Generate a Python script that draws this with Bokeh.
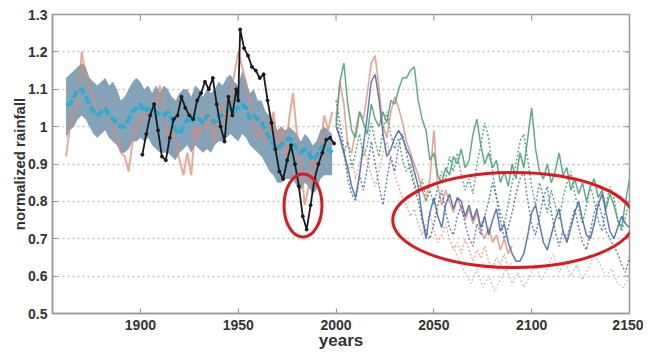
from bokeh.plotting import figure
from bokeh.models import LinearAxis, FixedTicker, CustomJSTickFormatter, Range1d
from bokeh.embed import file_html
from bokeh.resources import INLINE

# ---------------- data ----------------
hist_years = [1862, 1864, 1866, 1868, 1870, 1872, 1874, 1876, 1878, 1880, 1882, 1884, 1886, 1888,
              1890, 1892, 1894, 1896, 1898, 1900, 1902, 1904, 1906, 1908, 1910, 1912, 1914, 1916,
              1918, 1920, 1922, 1924, 1926, 1928, 1930, 1932, 1934, 1936, 1938, 1940, 1942, 1944,
              1946, 1948, 1950, 1952, 1954, 1956, 1958, 1960, 1962, 1964, 1966, 1968, 1970, 1972,
              1974, 1976, 1978, 1980, 1982, 1984, 1986, 1988, 1990, 1992, 1994, 1996, 1998]
band_upper = [1.13, 1.14, 1.15, 1.16, 1.17, 1.16, 1.13, 1.12, 1.11, 1.12, 1.13, 1.11, 1.12, 1.10,
              1.07, 1.08, 1.10, 1.12, 1.13, 1.12, 1.10, 1.11, 1.09, 1.11, 1.09, 1.11, 1.10, 1.08,
              1.07, 1.09, 1.10, 1.10, 1.08, 1.11, 1.10, 1.08, 1.10, 1.09, 1.10, 1.12, 1.11, 1.13,
              1.14, 1.12, 1.11, 1.15, 1.12, 1.09, 1.10, 1.07, 1.07, 1.04, 1.03, 1.02, 0.99, 1.00,
              0.99, 1.00, 0.99, 0.98, 0.96, 0.98, 0.97, 0.95, 0.96, 0.99, 1.00, 0.99, 0.98]
band_lower = [0.97, 0.99, 1.00, 1.02, 1.03, 1.02, 1.00, 0.98, 0.97, 0.98, 0.99, 0.97, 0.96, 0.95,
              0.93, 0.93, 0.94, 0.96, 0.96, 0.97, 0.96, 0.97, 0.95, 0.94, 0.93, 0.93, 0.93, 0.92,
              0.91, 0.93, 0.94, 0.95, 0.93, 0.95, 0.94, 0.93, 0.94, 0.93, 0.95, 0.96, 0.96, 0.97,
              0.98, 0.97, 0.96, 0.98, 0.97, 0.95, 0.94, 0.93, 0.92, 0.90, 0.88, 0.87, 0.85, 0.85,
              0.86, 0.86, 0.86, 0.84, 0.83, 0.85, 0.84, 0.82, 0.83, 0.86, 0.87, 0.87, 0.87]
model_mean = [1.06, 1.06, 1.08, 1.10, 1.10, 1.08, 1.06, 1.04, 1.03, 1.04, 1.05, 1.03, 1.02, 1.01,
              1.00, 1.00, 1.02, 1.04, 1.05, 1.06, 1.04, 1.05, 1.04, 1.04, 1.03, 1.03, 1.04, 1.02,
              0.99, 0.98, 1.00, 1.02, 1.01, 1.03, 1.02, 1.01, 1.03, 1.02, 1.01, 1.03, 1.03, 1.04,
              1.05, 1.04, 1.05, 1.06, 1.05, 1.02, 1.03, 1.02, 1.01, 0.99, 0.97, 0.95, 0.94, 0.95,
              0.96, 0.97, 0.96, 0.94, 0.93, 0.94, 0.93, 0.91, 0.92, 0.94, 0.95, 0.94, 0.93]
hist_salmon = [0.92, 1.00, 1.04, 1.06, 1.20, 1.14, 1.10, 1.08, 1.03, 1.04, 1.06, 1.03, 0.99, 0.98,
               0.93, 0.92, 0.88, 0.96, 1.00, 1.03, 1.02, 1.05, 1.04, 1.06, 1.11, 1.05, 0.97, 1.00,
               0.96, 0.91, 0.87, 0.93, 0.87, 1.00, 0.97, 1.04, 0.99, 1.03, 0.96, 1.02, 1.06, 1.01,
               1.08, 1.14, 1.20, 1.16, 1.12, 1.06, 1.00, 0.97, 1.02, 0.96, 0.99, 1.04, 0.95, 1.00,
               0.92, 1.02, 1.09, 0.98, 0.90, 0.79, 0.84, 0.92, 0.88, 0.95, 1.03, 0.99, 1.04]

obs_years = [1901, 1903, 1905, 1907, 1909, 1911, 1913, 1915, 1917, 1919, 1921, 1923, 1925, 1927,
             1929, 1931, 1933, 1935, 1937, 1939, 1941, 1943, 1945, 1947, 1949, 1950, 1951, 1953,
             1955, 1957, 1959, 1961, 1963, 1965, 1967, 1969, 1971, 1973, 1975, 1977, 1979, 1981,
             1983, 1985, 1987, 1989, 1991, 1993, 1995, 1997, 1999]
obs_rain = [0.925, 0.98, 1.03, 1.06, 0.99, 0.92, 0.91, 0.97, 1.02, 1.03, 1.08, 1.05, 1.03, 1.02,
            1.07, 1.09, 1.12, 1.10, 1.13, 1.06, 1.00, 0.96, 1.08, 1.03, 1.10, 1.07, 1.26, 1.21,
            1.19, 1.16, 1.15, 1.13, 1.14, 1.07, 1.01, 0.94, 0.88, 0.86, 0.91, 0.95, 0.90, 0.84,
            0.76, 0.725, 0.79, 0.86, 0.90, 0.93, 0.965, 0.97, 0.955]

fut_years = [2000, 2002, 2004, 2006, 2008, 2010, 2012, 2014, 2016, 2018,
             2020, 2022, 2024, 2026, 2028, 2030, 2032, 2034, 2036, 2038,
             2040, 2042, 2044, 2046, 2048, 2050, 2052, 2054, 2056, 2058,
             2060, 2062, 2064, 2066, 2068, 2070, 2072, 2074, 2076, 2078,
             2080, 2082, 2084, 2086, 2088, 2090, 2092, 2094, 2096, 2098,
             2100, 2102, 2104, 2106, 2108, 2110, 2112, 2114, 2116, 2118,
             2120, 2122, 2124, 2126, 2128, 2130, 2132, 2134, 2136, 2138,
             2140, 2142, 2144, 2146, 2148, 2150]
green_solid = [1.00, 1.12, 1.17, 1.06, 0.99, 0.97, 1.04, 1.01, 0.98, 1.06,
               1.02, 1.00, 1.04, 1.01, 1.07, 1.06, 1.10, 1.13, 1.13, 1.15,
               1.16, 1.07, 1.02, 0.99, 0.91, 0.93, 0.87, 0.85, 0.89, 0.87,
               0.92, 0.90, 0.94, 0.89, 0.91, 0.98, 1.02, 0.95, 0.90, 0.93,
               0.89, 0.91, 0.85, 0.88, 0.84, 0.90, 0.86, 0.93, 0.89, 0.97,
               1.05, 0.94, 0.88, 0.86, 0.90, 0.85, 0.88, 0.93, 0.87, 0.89,
               0.83, 0.86, 0.82, 0.85, 0.80, 0.84, 0.86, 0.81, 0.83, 0.78,
               0.82, 0.79, 0.75, 0.73, 0.80, 0.86]
green_dotted = [1.02, 0.97, 0.93, 0.96, 0.89, 0.93, 0.98, 0.92, 0.95, 1.01,
                0.96, 0.92, 0.99, 1.04, 0.98, 0.94, 0.97, 0.91, 0.88, 0.90,
                0.85, 0.82, 0.86, 0.80, 0.83, 0.79, 0.84, 0.88, 0.86, 0.92,
                0.88, 0.93, 0.87, 0.83, 0.86, 0.82, 0.90, 0.95, 1.01, 0.97,
                0.88, 0.81, 0.77, 0.74, 0.79, 0.85, 0.90, 0.96, 0.98, 0.91,
                0.84, 0.79, 0.85, 0.81, 0.77, 0.83, 0.79, 0.75, 0.81, 0.85,
                0.88, 0.82, 0.78, 0.74, 0.79, 0.84, 0.80, 0.75, 0.72, 0.79,
                0.84, 0.81, 0.75, 0.72, 0.76, 0.80]
blue_solid = [1.00, 0.97, 0.93, 0.89, 0.84, 0.81, 0.87, 0.95, 1.03, 1.12,
              1.14, 1.07, 0.98, 0.92, 0.94, 0.97, 0.99, 0.97, 0.94, 0.92,
              0.88, 0.84, 0.76, 0.70, 0.77, 0.81, 0.76, 0.73, 0.79, 0.82,
              0.78, 0.81, 0.80, 0.76, 0.79, 0.75, 0.78, 0.73, 0.76, 0.71,
              0.75, 0.78, 0.72, 0.74, 0.69, 0.66, 0.64, 0.64, 0.66, 0.71,
              0.77, 0.79, 0.74, 0.69, 0.67, 0.71, 0.75, 0.78, 0.72, 0.69,
              0.73, 0.77, 0.80, 0.75, 0.71, 0.70, 0.74, 0.79, 0.82, 0.77,
              0.72, 0.70, 0.73, 0.76, 0.74, 0.73]
blue_dotted = [1.07, 1.01, 0.94, 0.86, 0.82, 0.80, 0.87, 0.83, 0.89, 0.96,
               0.90, 0.84, 0.79, 0.86, 0.92, 0.88, 0.95, 0.98, 0.93, 0.88,
               0.84, 0.80, 0.75, 0.72, 0.70, 0.74, 0.79, 0.83, 0.77, 0.73,
               0.71, 0.76, 0.79, 0.74, 0.70, 0.68, 0.74, 0.71, 0.76, 0.80,
               0.85, 0.81, 0.75, 0.70, 0.73, 0.77, 0.82, 0.86, 0.88, 0.80,
               0.74, 0.71, 0.76, 0.81, 0.84, 0.77, 0.72, 0.68, 0.72, 0.70,
               0.74, 0.78, 0.73, 0.69, 0.67, 0.72, 0.77, 0.80, 0.76, 0.72,
               0.70, 0.68, 0.66, 0.63, 0.61, 0.65]
salmon_years = [2000, 2002, 2004, 2006, 2008, 2010, 2012, 2014, 2016, 2018,
                2020, 2022, 2024, 2026, 2028, 2030, 2032, 2034, 2036, 2038,
                2040, 2042, 2044, 2046, 2048, 2050, 2052, 2054, 2056, 2058,
                2060, 2062, 2064, 2066, 2068, 2070, 2072, 2074, 2076, 2078,
                2080, 2082, 2084, 2086, 2088, 2090]
salmon_solid = [1.02, 1.12, 1.06, 0.95, 0.93, 0.99, 1.04, 1.02, 1.09, 1.17,
                1.19, 1.10, 1.00, 0.97, 1.04, 1.08, 1.05, 1.01, 0.96, 0.93,
                0.90, 0.87, 0.83, 0.80, 0.86, 0.99, 0.84, 0.79, 0.83, 0.80,
                0.77, 0.81, 0.78, 0.75, 0.78, 0.74, 0.77, 0.72, 0.70, 0.73,
                0.69, 0.71, 0.67, 0.70, 0.66, 0.68]
salmon_dotted = [1.04, 0.98, 0.92, 0.88, 0.91, 0.86, 0.90, 0.95, 0.91, 0.87,
                 0.84, 0.88, 0.93, 0.96, 0.91, 0.87, 0.84, 0.81, 0.79, 0.76,
                 0.78, 0.74, 0.71, 0.74, 0.77, 0.72, 0.69, 0.71, 0.74, 0.70,
                 0.67, 0.69, 0.66, 0.70, 0.67, 0.64, 0.67, 0.65, 0.68, 0.64,
                 0.62, 0.65, 0.63, 0.66, 0.62, 0.64]
gray_years = [2060, 2063, 2066, 2069, 2072, 2075, 2078, 2081, 2084, 2087, 2090, 2093, 2096, 2099,
              2102, 2105, 2108, 2111, 2114, 2117, 2120, 2123, 2126, 2129, 2132, 2135, 2138, 2141,
              2144, 2147, 2150]
gray_dotted = [0.68, 0.64, 0.61, 0.58, 0.62, 0.57, 0.60, 0.56, 0.59, 0.62, 0.58, 0.61, 0.57, 0.60,
               0.63, 0.59, 0.62, 0.66, 0.61, 0.64, 0.60, 0.63, 0.59, 0.62, 0.66, 0.63, 0.60, 0.62,
               0.58, 0.57, 0.60]

# highlight ellipses (centre year, centre value, width in years, height in rainfall units)
ell_x = [1983.1, 2090.7]
ell_y = [0.789, 0.750]
ell_w = [19.4, 123.5]
ell_h = [0.169, 0.254]

x_ticks = [1900, 1950, 2000, 2050, 2100, 2150]
y_ticks = [0.5, 0.6, 0.7, 0.8, 0.9, 1.0, 1.1, 1.2, 1.3]
x_min, x_max = 1855.07, 2150
y_min, y_max = 0.5, 1.3

# ---------------- figure ----------------
FONT = "Liberation Sans"
TXT = "#333333"
FRAME = "#9a9a9a"

p = figure(width=643, height=352, output_backend="svg", toolbar_location=None,
           x_range=Range1d(x_min, x_max), y_range=Range1d(y_min, y_max),
           min_border_left=52, min_border_right=14, min_border_top=14, min_border_bottom=39,
           x_axis_location=None, y_axis_location=None)
p.background_fill_color = "white"
p.border_fill_color = "white"
p.outline_line_color = FRAME
p.outline_line_width = 1.5

p.xgrid.visible = False
p.ygrid.ticker = FixedTicker(ticks=y_ticks)
p.ygrid.grid_line_color = "#c4c4c4"
p.ygrid.grid_line_dash = "2 3"
p.ygrid.grid_line_width = 1.4

fmt = CustomJSTickFormatter(code="return tick.toFixed(1).replace(/\\.0$/, '');")


def style_axis(ax):
    ax.axis_line_color = FRAME
    ax.axis_line_width = 1.5
    ax.major_tick_line_color = FRAME
    ax.major_tick_line_width = 1.2
    ax.major_tick_in = 5
    ax.major_tick_out = 0
    ax.minor_tick_line_color = None
    ax.major_label_text_font = FONT
    ax.major_label_text_font_style = "bold"
    ax.major_label_text_font_size = "14px"
    ax.major_label_text_color = TXT
    ax.axis_label_text_font = FONT
    ax.axis_label_text_font_style = "bold"
    ax.axis_label_text_color = TXT


xb = LinearAxis(ticker=FixedTicker(ticks=x_ticks))
style_axis(xb)
xb.major_label_standoff = 6
xb.axis_label = "years"
xb.axis_label_text_font_size = "17px"
xb.axis_label_standoff = -2
p.add_layout(xb, "below")

yl = LinearAxis(ticker=FixedTicker(ticks=y_ticks), formatter=fmt)
style_axis(yl)
yl.major_label_standoff = 5
yl.axis_label = "normalized rainfall"
yl.axis_label_text_font_size = "15px"
yl.axis_label_standoff = -3
p.add_layout(yl, "left")

# mirrored inward ticks on the top and right frame edges
p.segment(x0=x_ticks, y0=[y_max] * len(x_ticks), x1=x_ticks, y1=[y_max - 0.017] * len(x_ticks),
          line_color=FRAME, line_width=1.2)
p.segment(x0=[x_max] * len(y_ticks), y0=y_ticks, x1=[x_max - 2.55] * len(y_ticks), y1=y_ticks,
          line_color=FRAME, line_width=1.2)

# ---------------- glyphs ----------------
GREEN = "#4aa57a"
BLUE = "#4a6db5"
SALMON = "#e8836a"

# future projections
p.line(gray_years, gray_dotted, line_color="#c8c8c8", line_width=1.4, line_dash="2 2")
p.line(salmon_years, salmon_dotted, line_color=SALMON, line_width=1.4, line_dash="2 2", line_alpha=0.7)
p.line(salmon_years, salmon_solid, line_color=SALMON, line_width=1.6, line_alpha=0.75)
p.line(fut_years, green_dotted, line_color=GREEN, line_width=1.5, line_dash="2 2", line_alpha=0.9)
p.line(fut_years, blue_dotted, line_color=BLUE, line_width=1.5, line_dash="2 2", line_alpha=0.85)
p.line(fut_years, green_solid, line_color=GREEN, line_width=1.5, line_alpha=0.9)
p.line(fut_years, blue_solid, line_color=BLUE, line_width=1.5, line_alpha=0.9)

# historical model spread and members
p.varea(x=hist_years, y1=band_lower, y2=band_upper, fill_color="#7a9bb2", fill_alpha=0.92)
p.line(hist_years, hist_salmon, line_color=SALMON, line_width=2.0, line_alpha=0.7)
p.line(hist_years, model_mean, line_color="#27aed3", line_width=4, line_dash="8 3")

# observations
p.line(obs_years, obs_rain, line_color="#1a1a1a", line_width=1.8)
p.scatter(obs_years, obs_rain, size=3, color="#1a1a1a")

# highlight ellipses
p.ellipse(x=ell_x, y=ell_y, width=ell_w, height=ell_h, fill_color=None,
          line_color="#e3161c", line_width=3)

open("out.html", "w").write(file_html(p, INLINE))
